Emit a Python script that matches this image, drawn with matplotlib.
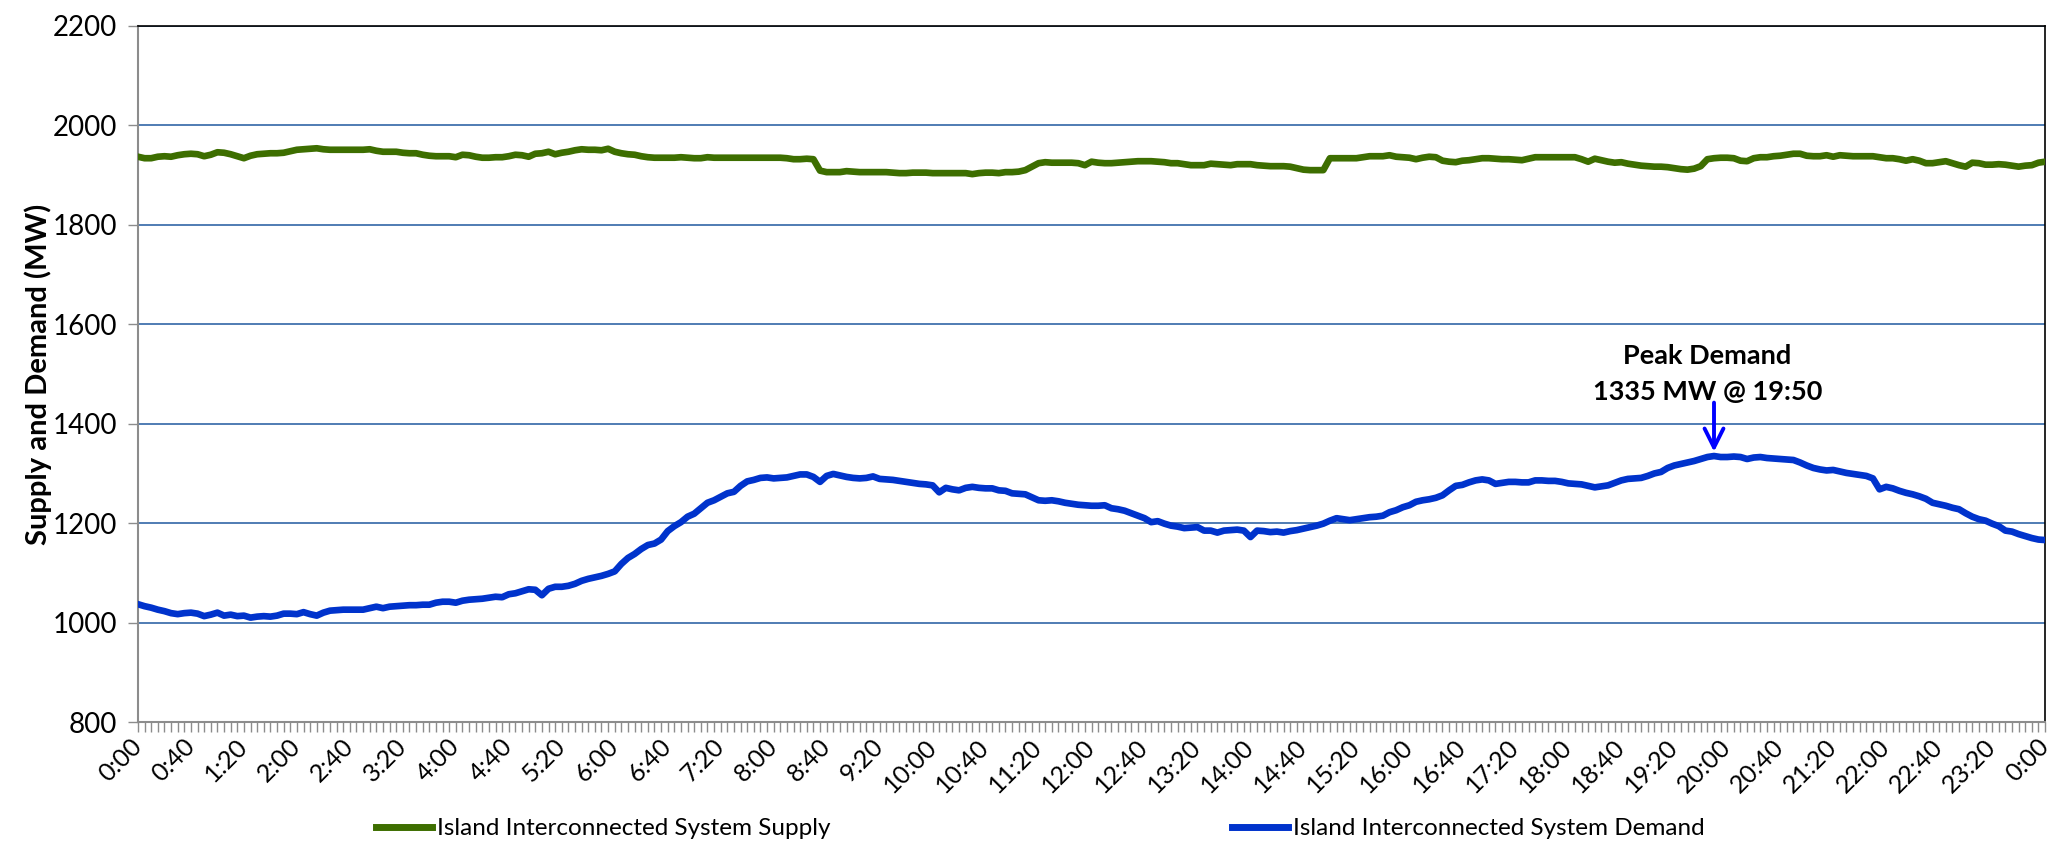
import matplotlib
matplotlib.use("Agg")
import matplotlib.pyplot as plt
from matplotlib.ticker import MultipleLocator, FixedLocator
from matplotlib.lines import Line2D

plt.rcParams['font.family'] = ['Lato', 'DejaVu Sans']

# 5-minute readings, 0:00 .. 24:00 (MW)
minutes = list(range(0, 1441, 5))

demand = [
    1037, 1033, 1030, 1026, 1023, 1019, 1017, 1019, 1020, 1018, 1013, 1016,
    1020, 1014, 1016, 1013, 1014, 1010, 1012, 1013, 1012, 1014, 1018, 1018,
    1017, 1021, 1017, 1014, 1020, 1024, 1025, 1026, 1026, 1026, 1026, 1029,
    1032, 1029, 1032, 1033, 1034, 1035, 1035, 1036, 1036, 1040, 1042, 1042,
    1040, 1044, 1046, 1047, 1048, 1050, 1052, 1051, 1057, 1059, 1063, 1067,
    1066, 1055, 1068, 1072, 1072, 1074, 1078, 1084, 1088, 1091, 1094, 1098,
    1103, 1118, 1130, 1138, 1148, 1156, 1159, 1167, 1184, 1194, 1202, 1213,
    1219, 1230, 1241, 1246, 1253, 1260, 1263, 1275, 1284, 1287, 1291, 1292,
    1290, 1291, 1292, 1295, 1298, 1298, 1293, 1283, 1295, 1299, 1296, 1293,
    1291, 1290, 1291, 1294, 1289, 1288, 1287, 1285, 1283, 1281, 1279, 1278,
    1276, 1262, 1271, 1268, 1266, 1271, 1273, 1271, 1270, 1270, 1266, 1265,
    1260, 1259, 1258, 1252, 1246, 1245, 1246, 1244, 1241, 1239, 1237, 1236,
    1235, 1235, 1236, 1230, 1228, 1225, 1220, 1215, 1210, 1202, 1204, 1199,
    1195, 1193, 1190, 1191, 1192, 1185, 1185, 1181, 1185, 1186, 1187, 1185,
    1172, 1185, 1184, 1182, 1183, 1181, 1184, 1186, 1189, 1192, 1195, 1199,
    1205, 1210, 1208, 1206, 1208, 1210, 1212, 1213, 1215, 1222, 1226, 1232,
    1236, 1243, 1246, 1248, 1251, 1256, 1266, 1275, 1277, 1282, 1286, 1288,
    1286, 1279, 1281, 1283, 1283, 1282, 1282, 1286, 1286, 1285, 1285, 1283,
    1280, 1279, 1278, 1275, 1272, 1274, 1276, 1281, 1286, 1289, 1290, 1291,
    1295, 1300, 1303, 1311, 1316, 1319, 1322, 1325, 1329, 1333, 1335, 1333,
    1333, 1334, 1333, 1329, 1332, 1333, 1331, 1330, 1329, 1328, 1327, 1322,
    1316, 1311, 1308, 1306, 1307, 1304, 1301, 1299, 1297, 1295, 1290, 1268,
    1273, 1270, 1265, 1261, 1258, 1254, 1249, 1241, 1238, 1235, 1231, 1228,
    1220, 1213, 1208, 1205, 1199, 1194, 1185, 1183, 1178, 1174, 1170, 1167,
    1166,
]

supply = [
    1937, 1934, 1934, 1937, 1938, 1937, 1940, 1942, 1943, 1942, 1938, 1941,
    1946, 1945, 1942, 1938, 1934, 1939, 1942, 1943, 1944, 1944, 1945, 1948,
    1951, 1952, 1953, 1954, 1952, 1951, 1951, 1951, 1951, 1951, 1951, 1952,
    1949, 1947, 1947, 1947, 1945, 1944, 1944, 1941, 1939, 1938, 1938, 1938,
    1936, 1941, 1940, 1937, 1935, 1935, 1936, 1936, 1938, 1941, 1940, 1937,
    1943, 1944, 1947, 1942, 1945, 1947, 1950, 1952, 1951, 1951, 1950, 1953,
    1947, 1944, 1942, 1941, 1938, 1936, 1935, 1935, 1935, 1935, 1936, 1935,
    1934, 1934, 1936, 1935, 1935, 1935, 1935, 1935, 1935, 1935, 1935, 1935,
    1935, 1935, 1934, 1932, 1932, 1933, 1932, 1909, 1906, 1906, 1906, 1908,
    1907, 1906, 1906, 1906, 1906, 1906, 1905, 1904, 1904, 1905, 1905, 1905,
    1904, 1904, 1904, 1904, 1904, 1904, 1902, 1904, 1905, 1905, 1904, 1906,
    1906, 1907, 1910, 1917, 1924, 1926, 1925, 1925, 1925, 1925, 1924, 1920,
    1927, 1925, 1924, 1924, 1925, 1926, 1927, 1928, 1928, 1928, 1927, 1926,
    1924, 1924, 1922, 1920, 1920, 1920, 1923, 1922, 1921, 1920, 1922, 1922,
    1922, 1920, 1919, 1918, 1918, 1918, 1917, 1914, 1911, 1910, 1910, 1910,
    1934, 1934, 1934, 1934, 1934, 1936, 1938, 1938, 1938, 1940, 1937, 1936,
    1935, 1932, 1935, 1937, 1936, 1929, 1927, 1926, 1929, 1930, 1932, 1934,
    1934, 1933, 1932, 1932, 1931, 1930, 1933, 1936, 1936, 1936, 1936, 1936,
    1936, 1936, 1932, 1927, 1933, 1930, 1927, 1925, 1926, 1923, 1921, 1919,
    1918, 1917, 1917, 1916, 1914, 1912, 1911, 1913, 1918, 1932, 1934, 1935,
    1935, 1934, 1929, 1928, 1934, 1936, 1936, 1938, 1939, 1941, 1943, 1943,
    1939, 1938, 1938, 1940, 1937, 1940, 1939, 1938, 1938, 1938, 1938, 1936,
    1934, 1934, 1932, 1929, 1932, 1929, 1924, 1924, 1926, 1928, 1924, 1920,
    1917, 1925, 1924, 1921, 1921, 1922, 1921, 1919, 1917, 1919, 1920, 1925,
    1927,
]

label_minutes = list(range(0, 1441, 40))
tick_labels = [f"{(m // 60) % 24}:{m % 60:02d}" for m in label_minutes]

peak_minute = 1190
peak_value = 1335

GREEN = '#3d6e00'
BLUE = '#0033cc'
GRID = '#4f7cb3'
AXIS_GREY = '#8c8c8c'

fig = plt.figure(figsize=(20.56, 8.43), dpi=100)
ax = fig.add_axes([0.0671, 0.1435, 0.9276, 0.8257])

ax.plot(minutes, supply, color=GREEN, lw=4.8, solid_joinstyle='round', zorder=3)
ax.plot(minutes, demand, color=BLUE, lw=4.8, solid_joinstyle='round', zorder=3)

ax.set_xlim(0, 1440)
ax.set_ylim(800, 2200)
ax.yaxis.set_major_locator(MultipleLocator(200))
ax.grid(axis='y', color=GRID, lw=1.4, zorder=1)
ax.set_axisbelow(True)

ax.xaxis.set_major_locator(FixedLocator(label_minutes))
ax.xaxis.set_minor_locator(MultipleLocator(5))
ax.set_xticklabels(tick_labels, rotation=45, ha='right', va='center',
                   rotation_mode='anchor', fontsize=18)
ax.tick_params(axis='x', which='both', length=7, width=1.0, color=AXIS_GREY,
               direction='out', pad=8)
ax.tick_params(axis='y', length=7, width=1.0, color=AXIS_GREY, labelsize=20, pad=8)

for side in ('left', 'bottom'):
    ax.spines[side].set_color(AXIS_GREY)
    ax.spines[side].set_linewidth(1.5)
for side in ('top', 'right'):
    ax.spines[side].set_color('black')
    ax.spines[side].set_linewidth(1.2)

ax.set_ylabel('Supply and Demand (MW)', fontsize=21, fontweight='bold')
ax.yaxis.set_label_coords(-0.045, 0.5)

ax.annotate('', xy=(peak_minute, peak_value + 3), xytext=(peak_minute, 1448),
            arrowprops=dict(arrowstyle='->', color='blue', lw=2.8, mutation_scale=34),
            zorder=4)
ax.text(peak_minute - 5, 1536, 'Peak Demand', ha='center', va='center',
        fontsize=19.5, fontweight='bold')
ax.text(peak_minute - 5, 1463, f'{peak_value} MW @ 19:50', ha='center', va='center',
        fontsize=19.5, fontweight='bold')

handles = [Line2D([0], [0], color=GREEN, lw=5),
           Line2D([0], [0], color=BLUE, lw=5)]
labels = ['Island Interconnected System Supply', 'Island Interconnected System Demand']
fig.legend(handles, labels, loc='center', bbox_to_anchor=(0.506, 0.017), ncol=2,
           frameon=False, fontsize=17.5, handlelength=2.3, handletextpad=0.2,
           columnspacing=16.5)

fig.savefig('out.png', dpi=100)
